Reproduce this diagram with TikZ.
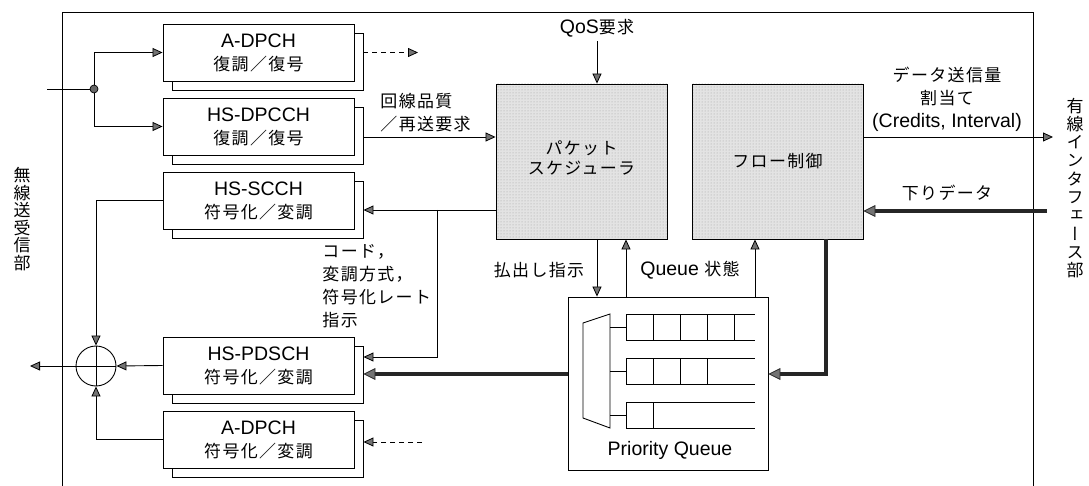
\documentclass[tikz,border=0pt]{standalone}
\usepackage{fontspec}
\setmainfont{Liberation Sans}
\newfontfamily\jp[Scale=0.87,LetterSpace=8]{Noto Sans CJK JP}
\newfontfamily\vjp[Scale=0.87,RawFeature=+vert]{Noto Sans CJK JP}
\usetikzlibrary{arrows.meta,shadows,patterns}

\begin{document}
\begin{tikzpicture}[x=1pt,y=-1pt,
  font=\fontsize{19.5}{23}\selectfont,
  line width=0.9pt,
  arr/.style={-{Triangle[length=10pt,width=9pt,fill=black!55,line width=0.8pt]}},
  thickarr/.style={line width=3.6pt,draw=black!85,
    -{Triangle[length=12pt,width=12pt,fill=black!55,line width=0.8pt]}},
  chbox/.style={draw,fill=white,minimum width=191pt,minimum height=57pt,
    align=center,inner sep=0pt,
    copy shadow={shadow xshift=9pt,shadow yshift=-9pt,fill=white,draw=black}},
  ctrl/.style={draw,minimum width=171pt,minimum height=155pt,align=center,
    preaction={fill=gray!22},pattern=dots,pattern color=gray!75},
  txt/.style={inner sep=0pt,align=center},
  dsh/.style={dash pattern=on 5pt off 4pt}]
\useasboundingbox (0,0) rectangle (1089,486);

% base-station frame, open at the bottom
\draw (62,486) -- (62,12) -- (1033,12) -- (1033,486);

% channel processing blocks
\node[chbox] (adpchR)  at (258.5,52.5)  {A-DPCH\\{\jp 復調／復号}};
\node[chbox] (hsdpcch) at (258.5,126.5) {HS-DPCCH\\{\jp 復調／復号}};
\node[chbox] (hsscch)  at (258.5,200.5) {HS-SCCH\\{\jp 符号化／変調}};
\node[chbox] (hspdsch) at (258.5,365.5) {HS-PDSCH\\{\jp 符号化／変調}};
\node[chbox] (adpchT)  at (258.5,439.5) {A-DPCH\\{\jp 符号化／変調}};

% right edges of the stacked copies
\coordinate (adpchRS)  at ([xshift=9pt]adpchR.east);
\coordinate (hsdpcchS) at ([xshift=9pt]hsdpcch.east);
\coordinate (hsscchS)  at ([xshift=9pt]hsscch.east);
\coordinate (hspdschS) at ([xshift=9pt]hspdsch.east);
\coordinate (adpchTS)  at ([xshift=9pt]adpchT.east);

% scheduler and flow control
\node[ctrl] (sched) at (581.5,161.5) {\raisebox{7pt}{\shortstack{{\jp パケット}\\[2pt]{\jp スケジューラ}}}};
\node[ctrl] (flow)  at (777.5,161.5) {\raisebox{3pt}{\jp フロー制御}};

% priority queue
\node[draw,minimum width=200pt,minimum height=173pt,inner sep=0pt] (pq) at (668,383.5) {};
\node[txt] (pqlab) at (670,450) {Priority Queue};
\draw (583,323) -- (610,314) -- (610,428) -- (583,418) -- cycle;
\foreach \top/\cells/\mid in {314/4/327.5, 358/3/371, 402/1/415}{
  \draw (626,\top) -- (755,\top);
  \draw (626,\top+26.5) -- (755,\top+26.5);
  \foreach \k in {0,...,\cells}
    \draw (626+27*\k,\top) -- (626+27*\k,\top+26.5);
  \draw (610,\mid) -- (626,\mid);
}

% receive side
\coordinate (inL) at (47,89);
\coordinate (split) at (94,89);
\draw (inL) -- (split);
\draw[arr] (split) |- (adpchR.west);
\draw[arr] (split) |- (hsdpcch.west);
\filldraw[fill=black!60,line width=0.7pt] (split) circle (4);
\coordinate (dashR) at (418,52.5);
\draw[arr,dsh] (adpchRS) -- (dashR);

\coordinate (q1) at (363.5,137);
\draw[arr] (q1) -- (q1 -| sched.west);
\node[txt,align=left,anchor=west] (lq) at (380,112.5) {{\jp 回線品質}\\{\jp ／再送要求}};

\node[txt] (qos) at (597,28) {QoS{\jp 要求}};
\draw[arr] ([yshift=-4pt]qos.south) -- (qos.south |- sched.north);

% scheduler to transmit blocks
\coordinate (s1) at (496,210);
\coordinate (b1) at (437,210);
\coordinate (b2) at (437,357);
\draw[arr] (s1) -- (s1 -| hsscchS);
\draw[arr] (b1) -- (b2) -- (b2 -| hspdschS);
\node[txt,align=left,anchor=west] (code) at (322,286.5)
  {{\jp コード，}\\{\jp 変調方式，}\\{\jp 符号化レート}\\{\jp 指示}};

\coordinate (pqL) at (568,374);
\draw[thickarr] (pqL) -- (pqL -| hspdschS);

\coordinate (d1) at (597,239);
\draw[arr] (d1) -- (d1 |- pq.north);
\coordinate (u1) at (626,297);
\draw[arr] (u1) -- (u1 |- sched.south);
\coordinate (u2) at (755,297);
\draw[arr] (u2) -- (u2 |- flow.south);
\node[txt] (push) at (539,270) {\jp 払出し指示};
\node[txt] (qstate) at (690,270) {Queue {\jp 状態}};

\coordinate (f1) at (826,239);
\coordinate (f2) at (826,374);
\draw[thickarr] (f1) -- (f2) -- (f2 -| pq.east);

% wired interface side
\coordinate (fr) at (863,137);
\coordinate (outR) at (1053,137);
\draw[arr] (fr) -- (outR);
\node[txt] (alloc) at (947,99) {{\jp データ送信量}\\{\jp 割当て}\\(Credits, Interval)};
\coordinate (inR) at (1047,211);
\draw[thickarr] (inR) -- (inR -| flow.east);
\node[txt] (down) at (947,193) {\jp 下りデータ};

% summing point
\node[circle,draw,minimum size=40pt,inner sep=0pt] (sum) at (96,366) {};
\draw (sum.north) -- (sum.south);
\draw (sum.west) -- (sum.east);
\draw[arr] (hspdsch.west) -- (sum.east);
\draw[arr] (hsscch.west) -| (sum.north);
\draw[arr] (adpchT.west) -| (sum.south);
\coordinate (outL) at (30,366);
\draw[arr] (sum.west) -- (outL);
\coordinate (dashL) at (422,442);
\draw[arr,dsh] (dashL) -- (dashL -| adpchTS);

% side labels, set vertically
\node[txt,font=\fontsize{19.5}{17.5}\selectfont] (radio) at (22,219)
  {{\vjp 無}\\{\vjp 線}\\{\vjp 送}\\{\vjp 受}\\{\vjp 信}\\{\vjp 部}};
\node[txt,font=\fontsize{19.5}{18.3}\selectfont] (wired) at (1075,188)
  {{\vjp 有}\\{\vjp 線}\\{\vjp イ}\\{\vjp ン}\\{\vjp タ}\\{\vjp フ}\\{\vjp ェ}\\{\vjp ー}\\{\vjp ス}\\{\vjp 部}};
\end{tikzpicture}
\end{document}
